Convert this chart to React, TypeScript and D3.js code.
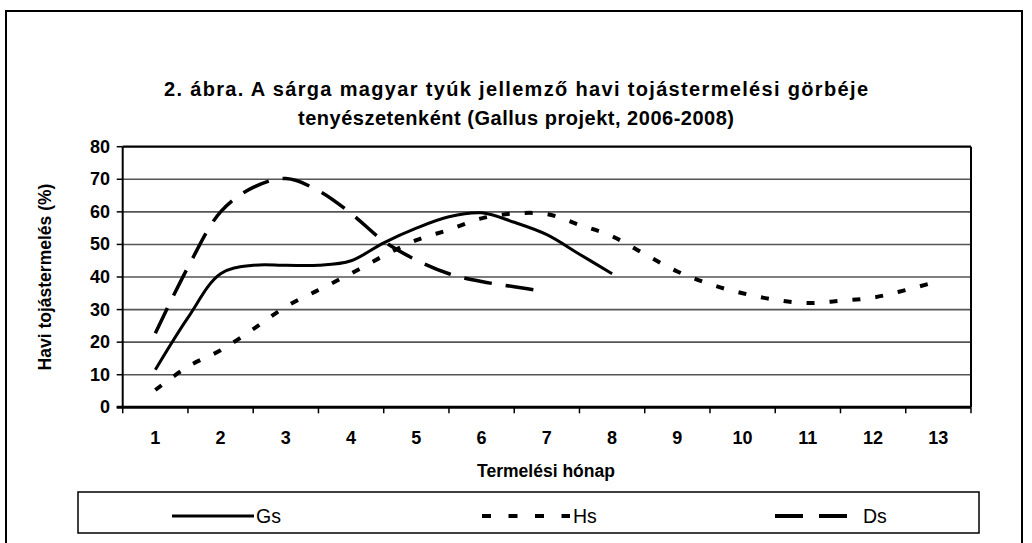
import React from 'react';
import * as d3 from 'd3';

const monthLabels = ['1','2','3','4','5','6','7','8','9','10','11','12','13'];
const yTicks = [0,10,20,30,40,50,60,70,80];

const gsMonths = [1,1.5,2,2.5,3,3.5,4,4.5,5,5.5,6,6.5,7,7.5,8];
const gsValues = [11.5,27.5,41,43.6,43.6,43.6,45,50.5,55,58.5,59.7,56.8,53,47,41];

const hsMonths = [1,1.5,2,2.5,3,3.5,4,4.5,5,5.5,6,6.5,7,7.5,8,8.5,9,9.5,10,10.5,11,11.5,12,12.5,13];
const hsValues = [5.3,12.5,17.5,24,30.9,36,41.1,46.5,51.3,54.5,58,59.5,59.3,56,52.5,47,41.7,37.8,35,33,32,32.7,33.7,36,38.7];

const dsMonths = [1,1.5,2,2.5,3,3.5,4,4.5,5,5.5,6,6.5,7];
const dsValues = [22.7,43,60,67.5,70.2,66.5,59.5,51,45.2,41,38.6,37,35.5];

const titleLines = [
  '2. ábra. A sárga magyar tyúk jellemző havi tojástermelési görbéje',
  'tenyészetenként (Gallus projekt, 2006-2008)',
];
const titleWidths = [704, 436];

const FONT = '"Liberation Sans", Arial, sans-serif';

export default function App() {
  const W = 1032, H = 543;
  const left = 122.7, right = 971, top = 146.7, bottom = 407.3;
  const x = d3.scaleLinear().domain([0.5, 13.5]).range([left, right]);
  const y = d3.scaleLinear().domain([0, 80]).range([bottom, top]);
  const line = d3.line<[number, number]>()
    .x(d => x(d[0]))
    .y(d => y(d[1]))
    .curve(d3.curveCatmullRom.alpha(0.5));
  const zip = (a: number[], b: number[]) => a.map((m, i) => [m, b[i]] as [number, number]);
  const boundaries = d3.range(0.5, 13.6, 1);

  return (
    <svg width={W} height={H} style={{ position: 'absolute', left: 0, top: 0, background: '#fff' }}
      fontFamily={FONT}>
      <rect x={0} y={0} width={W} height={H} fill="#fff" />
      <rect x={6} y={11} width={1016} height={545} fill="none" stroke="#000" strokeWidth={2} />
      {titleLines.map((t, i) => (
        <text key={i} x={516} y={96 + i * 29} textAnchor="middle" fontSize={20} fontWeight="bold"
          textLength={titleWidths[i]} lengthAdjust="spacing">{t}</text>
      ))}
      {/* gridlines */}
      {yTicks.filter(v => v > 0).map(v => (
        <line key={v} x1={left} x2={right} y1={y(v)} y2={y(v)} stroke={v === 80 ? '#000' : '#555'} strokeWidth={v === 80 ? 2.2 : 1.6} />
      ))}
      {/* plot borders */}
      <line x1={left} x2={left} y1={top} y2={bottom} stroke="#000" strokeWidth={2} />
      <line x1={right} x2={right} y1={top} y2={bottom} stroke="#000" strokeWidth={2} />
      {/* y ticks */}
      {yTicks.map(v => (
        <g key={v}>
          <line x1={left - 6} x2={left} y1={y(v)} y2={y(v)} stroke="#000" strokeWidth={1.5} />
          <text x={110} y={y(v) + 6} textAnchor="end" fontSize={18} fontWeight="bold">{v}</text>
        </g>
      ))}
      {/* x axis */}
      <line x1={left - 6} x2={right} y1={bottom} y2={bottom} stroke="#000" strokeWidth={3} />
      {boundaries.map(b => (
        <line key={b} x1={x(b)} x2={x(b)} y1={bottom} y2={bottom + 6} stroke="#000" strokeWidth={1.5} />
      ))}
      {monthLabels.map((l, i) => (
        <text key={l} x={x(i + 1)} y={444} textAnchor="middle" fontSize={18} fontWeight="bold">{l}</text>
      ))}
      <text x={546} y={477} textAnchor="middle" fontSize={17.5} fontWeight="bold">Termelési hónap</text>
      <text transform={`translate(51,${(top + bottom) / 2}) rotate(-90)`} textAnchor="middle" fontSize={17.5} fontWeight="bold">Havi tojástermelés (%)</text>
      {/* series */}
      <path d={line(zip(gsMonths, gsValues)) || ''} fill="none" stroke="#000" strokeWidth={3} strokeLinejoin="round" />
      <path d={line(zip(hsMonths, hsValues)) || ''} fill="none" stroke="#000" strokeWidth={4} strokeDasharray="8,15" />
      <path d={line(zip(dsMonths, dsValues)) || ''} fill="none" stroke="#000" strokeWidth={3.5} strokeDasharray="28,14" />
      {/* legend */}
      <rect x={78} y={492} width={901} height={41} fill="#fff" stroke="#000" strokeWidth={1.5} />
      <line x1={172} x2={254} y1={516} y2={516} stroke="#000" strokeWidth={3} />
      <text x={256} y={523} fontSize={19.5}>Gs</text>
      <line x1={482} x2={570} y1={516} y2={516} stroke="#000" strokeWidth={4} strokeDasharray="9,17.5" />
      <text x={573} y={523} fontSize={19.5}>Hs</text>
      <line x1={775} x2={848} y1={516} y2={516} stroke="#000" strokeWidth={4} strokeDasharray="28,16" />
      <text x={863} y={523} fontSize={19.5}>Ds</text>
    </svg>
  );
}
